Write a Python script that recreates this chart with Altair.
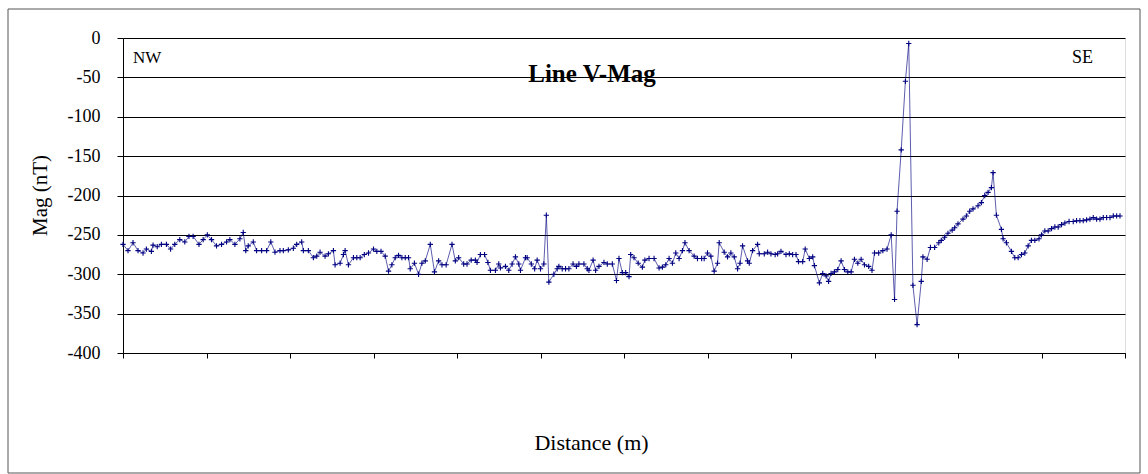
import altair as alt
import pandas as pd

# Distance along the profile (m) and magnetic reading (nT)
distance_m = [
    0, 6, 12, 18, 24, 28, 34, 36, 41, 46, 52, 57, 62, 68, 74, 79, 84, 91, 96, 101,
    106, 112, 118, 124, 128, 134, 140, 144, 147, 150, 156, 160, 166, 172, 177, 182, 188, 192, 198,
    204, 208, 214, 216, 222, 228, 232, 236, 242, 246, 252, 254, 260, 264, 266,
    270, 276, 280, 284, 289, 294, 300, 304, 309, 314, 318, 322, 326, 330, 334,
    338, 342, 344, 349, 354, 358, 362, 368, 373, 378, 382, 387, 394, 398, 402,
    408, 412, 417, 422, 424, 428, 433, 437, 440, 446, 450, 452, 458, 462, 466,
    470, 474, 476, 482, 484, 489, 493, 496, 500, 504, 507, 510, 516, 520, 522,
    526, 530, 534, 539, 543, 546, 552, 556, 558, 563, 566, 570, 576, 580, 586,
    591, 594, 598, 602, 606,
    608, 612, 617, 622, 625, 630, 636, 642, 646, 650, 654, 658, 662, 666, 670,
    673, 678, 684, 688, 693, 696, 700, 704, 708, 712, 714, 720, 724, 728, 732,
    736, 739, 742, 748, 750, 754, 760, 762, 768, 772, 776, 781, 784,
    788, 794, 798, 802, 806, 809, 814, 817, 822, 826, 828, 834, 838, 842, 845,
    848, 852, 856, 860, 864, 868, 872, 876, 880, 884, 888, 893, 897, 900, 905,
    910, 915, 920, 924, 927, 932, 937, 941, 946, 951, 956, 958, 963, 967, 972,
    977, 980, 984, 988, 993, 996, 1000, 1006, 1010, 1014, 1018, 1024, 1028,
    1032, 1036, 1040, 1042, 1046, 1052, 1054, 1058, 1064, 1068, 1072, 1076, 1080,
    1084, 1088, 1092, 1097, 1100, 1104, 1108, 1112, 1116, 1120, 1124, 1128, 1133,
    1138, 1142, 1146, 1150, 1154, 1158, 1162, 1166, 1170, 1174, 1178, 1182, 1186,
    1190, 1194,
]

mag_nt = [
    -262, -270, -260, -270, -273, -268, -271, -263, -265, -262, -262, -268, -262, -256, -259, -252, -252, -262, -256, -250,
    -256, -264, -262, -259, -256, -262, -255, -247, -270, -264, -259, -270, -270, -270, -259, -272, -270, -270, -269,
    -267, -262, -259, -270, -270, -279, -277, -272, -277, -274, -270, -288, -286, -275, -270,
    -288, -279, -279, -279, -275, -273, -268, -271, -271, -277, -296, -288, -279, -276, -279,
    -279, -279, -293, -286, -300, -286, -283, -262, -297, -283, -288, -288, -262, -283, -279,
    -287, -287, -282, -282, -285, -275, -275, -285, -295, -295, -287, -292, -290, -295, -287,
    -278, -287, -295, -279, -279, -287, -293, -282, -293, -287, -225, -310, -300, -293, -290,
    -293, -293, -293, -287, -290, -287, -287, -293, -295, -282, -295, -290, -285, -287, -287,
    -308, -280, -298, -298, -303,
    -275, -279, -286, -291, -282, -280, -280, -292, -291, -288, -280, -286, -273, -280, -270,
    -260, -270, -277, -280, -280, -280, -273, -277, -296, -286, -260, -272, -278, -273, -278,
    -293, -286, -264, -283, -286, -270, -262, -274, -274, -272, -274, -275, -274,
    -271, -275, -274, -275, -275, -284, -284, -268, -280, -278, -289, -311, -299, -302, -309,
    -299, -297, -294, -283, -294, -297, -297, -281, -286, -281, -288, -290, -295, -273, -273,
    -270, -268, -250, -332, -220, -142, -55, -7, -314, -364, -309, -278, -281, -266, -266,
    -260, -257, -253, -248, -244, -241, -236, -230, -226, -220, -217, -213, -209,
    -200, -196, -190, -171, -225, -243, -255, -260, -271, -279, -279, -275, -273,
    -264, -257, -257, -255, -250, -245, -245, -242, -240, -240, -237, -235, -233,
    -233, -232, -232, -232, -231, -230, -228, -230, -230, -228, -228, -228, -226,
    -226, -226,
]

y_ticks = [0, -50, -100, -150, -200, -250, -300, -350, -400]
x_ticks = [0, 100, 200, 300, 400, 500, 600, 700, 800, 900, 1000, 1100, 1200]

df = pd.DataFrame({"Distance": distance_m, "Mag": mag_nt})

SERIF = "Liberation Serif"
NAVY = "#000080"

x_enc = alt.X(
    "Distance:Q",
    scale=alt.Scale(domain=[0, 1200], nice=False, zero=False),
    axis=alt.Axis(
        values=x_ticks, tickCount=len(x_ticks) + 2, labels=False, grid=False, ticks=True,
        tickSize=5, tickColor="black", domainColor="black", title="Distance (m)",
        titleFont=SERIF, titleFontSize=22, titleFontWeight="normal", titleColor="black",
        titleX=468, titleY=89, titleBaseline="middle", titleAlign="center",
    ),
)
y_enc = alt.Y(
    "Mag:Q",
    scale=alt.Scale(domain=[-400, 0], nice=False, zero=False),
    axis=alt.Axis(
        values=y_ticks, tickCount=len(y_ticks) + 2,
        grid=True, gridColor="black", gridWidth=1, gridOpacity=1,
        tickSize=6, tickColor="black", domainColor="black",
        labelFont=SERIF, labelFontSize=18, labelColor="black", labelPadding=17,
        labelOverlap=False, labelFlush=False,
        labelExpr="toString(datum.value)",
        title="Mag (nT)", titleFont=SERIF, titleFontSize=21, titleFontWeight="normal",
        titleColor="black", titleAngle=270, titleX=-83, titleY=157,
        titleAlign="center", titleBaseline="middle",
    ),
)

base = alt.Chart(df)

line = base.mark_line(color=NAVY, strokeWidth=0.8, opacity=0.8).encode(x=x_enc, y=y_enc)
points = base.mark_point(
    shape="M -1 0 L 1 0 M 0 -1 L 0 1", filled=False, size=28,
    color=NAVY, strokeWidth=1.1, opacity=1,
).encode(x="Distance:Q", y="Mag:Q")

labels_df = pd.DataFrame({"label": ["NW", "SE", "Line V-Mag"]})

nw = alt.Chart(labels_df).transform_filter("datum.label == 'NW'").mark_text(
    font=SERIF, fontSize=17, align="left", baseline="middle", color="black"
).encode(x=alt.value(10), y=alt.value(20), text="label:N")
se = alt.Chart(labels_df).transform_filter("datum.label == 'SE'").mark_text(
    font=SERIF, fontSize=18, align="left", baseline="middle", color="black"
).encode(x=alt.value(949), y=alt.value(20), text="label:N")
title = alt.Chart(labels_df).transform_filter("datum.label == 'Line V-Mag'").mark_text(
    font=SERIF, fontSize=25, fontWeight="bold", align="center", baseline="middle", color="black"
).encode(x=alt.value(469), y=alt.value(36), text="label:N")

frame = alt.Chart(labels_df).transform_filter("datum.label == 'NW'").mark_rect(
    fill="white", fillOpacity=0, stroke="#555555", strokeWidth=1
).encode(x=alt.value(-115), x2=alt.value(1017), y=alt.value(-29), y2=alt.value(435))

chart = alt.layer(frame, line, points, nw, se, title).properties(
    width=1002,
    height=315,
    autosize=alt.AutoSizeParams(type="none"),
    padding={"left": 123, "top": 38, "right": 23, "bottom": 121},
).configure_view(stroke="#808080", strokeWidth=1).configure(background="white")

chart.save("out.html", embed_options={"renderer": "svg", "actions": False})
